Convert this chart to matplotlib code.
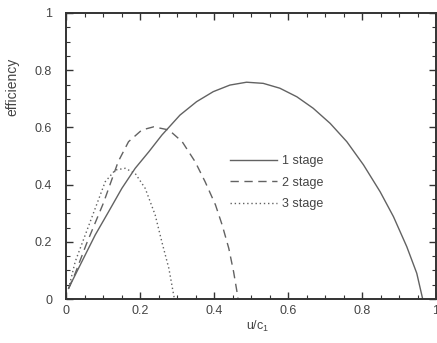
import matplotlib
matplotlib.use("Agg")
import matplotlib.pyplot as plt
from matplotlib.ticker import MultipleLocator

# values
u1 = [0.007, 0.016, 0.043, 0.079, 0.115, 0.151, 0.187, 0.224, 0.259, 0.308,
      0.353, 0.398, 0.443, 0.488, 0.533, 0.578, 0.624, 0.668, 0.714, 0.759,
      0.804, 0.849, 0.885, 0.921, 0.948, 0.964]
eta1 = [0.037, 0.061, 0.131, 0.224, 0.305, 0.387, 0.457, 0.515, 0.573, 0.643,
        0.690, 0.725, 0.748, 0.758, 0.754, 0.737, 0.707, 0.667, 0.614, 0.550,
        0.469, 0.375, 0.288, 0.183, 0.090, 0.0]

u2 = [0.007, 0.025, 0.056, 0.101, 0.141, 0.169, 0.205, 0.237, 0.278,
      0.314, 0.349, 0.376, 0.404, 0.422, 0.44, 0.453, 0.462, 0.465]
eta2 = [0.037, 0.09, 0.195, 0.335, 0.48, 0.55, 0.591, 0.602, 0.591,
        0.55, 0.48, 0.41, 0.329, 0.259, 0.177, 0.095, 0.026, 0.0]

u3 = [0.007, 0.025, 0.052, 0.079, 0.106, 0.133, 0.160, 0.187, 0.214, 0.241,
      0.259, 0.278, 0.291, 0.293]
eta3 = [0.037, 0.131, 0.224, 0.317, 0.41, 0.451, 0.457, 0.439, 0.387, 0.294,
        0.2, 0.107, 0.014, 0.0]

labels = ["1 stage", "2 stage", "3 stage"]

plt.rcParams['font.family'] = ['Liberation Sans', 'DejaVu Sans']

line_col = "#626262"
text_col = "#444444"

fig = plt.figure(figsize=(4.37, 3.43), dpi=100)
ax = fig.add_axes([66 / 437, 1 - 299 / 343, 370 / 437, 286 / 343])

ax.plot(u1, eta1, color=line_col, lw=1.0, ls="-", label=labels[0])
ax.plot(u2, eta2, color=line_col, lw=1.0, ls=(0, (6, 4)), label=labels[1])
ax.plot(u3, eta3, color=line_col, lw=1.0, ls=(0, (1, 2)), label=labels[2])

ax.set_xlim(0, 1)
ax.set_ylim(0, 1)
ax.xaxis.set_major_locator(MultipleLocator(0.2))
ax.yaxis.set_major_locator(MultipleLocator(0.2))
ax.xaxis.set_minor_locator(MultipleLocator(0.05))
ax.yaxis.set_minor_locator(MultipleLocator(0.05))
ax.xaxis.set_major_formatter(lambda v, p: f"{v:g}")
ax.yaxis.set_major_formatter(lambda v, p: f"{v:g}")

ax.tick_params(which="both", direction="in", top=True, right=True,
               colors="#333333", labelcolor=text_col, labelsize=9)
ax.tick_params(which="major", length=5, width=1)
ax.tick_params(which="minor", length=3, width=0.8)
ax.tick_params(axis="y", pad=10)
ax.tick_params(axis="x", pad=4)
for s in ax.spines.values():
    s.set_linewidth(1.4)
    s.set_color("#333333")

ax.set_ylabel("efficiency", fontsize=10, color=text_col)
ax.yaxis.set_label_coords(-0.127, 0.74)
ax.set_xlabel(r"u/c$_\mathregular{1}$", fontsize=9, color=text_col)
ax.xaxis.set_label_coords(0.517, -0.07)

leg = ax.legend(loc="center left", bbox_to_anchor=(0.443, 0.407), frameon=False,
                fontsize=9, handlelength=3.8, handletextpad=0.35,
                labelspacing=0.75, borderpad=0, borderaxespad=0)
for t in leg.get_texts():
    t.set_color(text_col)

fig.savefig("out.png", dpi=100)
